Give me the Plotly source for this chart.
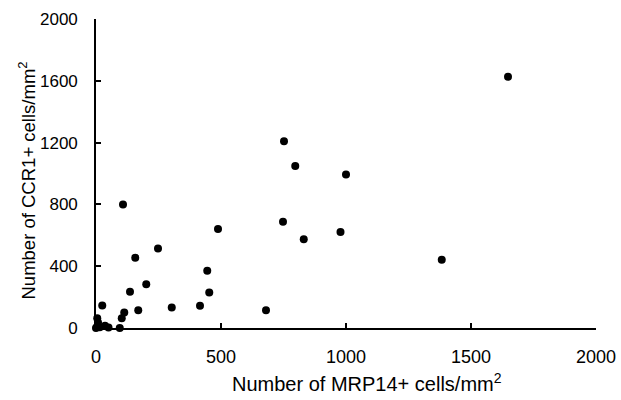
import plotly.graph_objects as go

mrp14 = [0, 5, 8, 5, 15, 36, 50, 95, 25, 103, 113, 108, 136, 157, 169, 201, 248, 303,
         416, 445, 453, 488, 680, 748, 752, 797, 831, 978, 1000, 1383, 1648]
ccr1 = [0, 10, 35, 63, 5, 15, 3, 0, 145, 63, 101, 800, 235, 455, 115, 283, 515, 132,
        144, 370, 229, 640, 115, 688, 1208, 1048, 574, 622, 993, 442, 1626]

x_ticks = [0, 500, 1000, 1500, 2000]
y_ticks = [0, 400, 800, 1200, 1600, 2000]
x_title = "Number of MRP14+ cells/mm<sup>2</sup>"
y_title = "Number of CCR1+ cells/mm<sup>2</sup>"

fig = go.Figure(go.Scatter(
    x=mrp14, y=ccr1, mode="markers",
    marker=dict(color="black", size=8),
    cliponaxis=False, showlegend=False, hoverinfo="skip",
))

font = dict(family="Liberation Sans, Arial, sans-serif", color="black")
fig.update_layout(
    width=621, height=400,
    margin=dict(l=96, r=25, t=19, b=72),
    paper_bgcolor="white", plot_bgcolor="white",
    font=dict(**font, size=16),
    annotations=[
        dict(text=x_title, xref="paper", yref="paper", x=0.542, y=0,
             xanchor="center", yanchor="middle", yshift=-54, showarrow=False,
             font=dict(size=20)),
        dict(text=y_title, xref="paper", yref="paper", x=0, y=0.5,
             xanchor="center", yanchor="middle", xshift=-69, yshift=-7,
             showarrow=False, textangle=-90, font=dict(size=18.5)),
    ],
)
fig.update_xaxes(
    range=[0, 2000], tickvals=x_ticks, ticktext=[str(v) for v in x_ticks],
    showline=True, linecolor="black", linewidth=1.6, showgrid=False, zeroline=False,
    ticks="inside", ticklen=5, tickwidth=1.6, tickcolor="black",
    tickfont=dict(size=18), ticklabelstandoff=12, automargin=False,
)
fig.update_yaxes(
    range=[0, 2000], tickvals=y_ticks, ticktext=[str(v) for v in y_ticks],
    showline=True, linecolor="black", linewidth=1.6, showgrid=False, zeroline=False,
    ticks="inside", ticklen=5, tickwidth=1.6, tickcolor="black",
    tickfont=dict(size=17), ticklabelstandoff=13, automargin=False,
)
fig.write_html("out.html", config={"displayModeBar": False},
               post_script="document.body.style.margin='0px';document.body.style.overflow='hidden';")
